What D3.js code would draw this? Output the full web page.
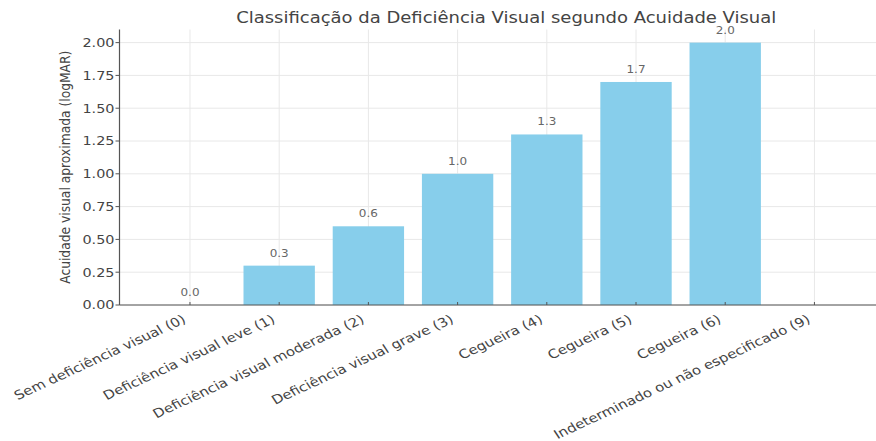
<!DOCTYPE html>
<html>
<head>
<meta charset="utf-8">
<script src="https://cdn.jsdelivr.net/npm/d3@7"></script>
<style>
  html, body { margin: 0; padding: 0; background: #fff; }
  svg { display: block; font-family: "DejaVu Sans", sans-serif; }
</style>
</head>
<body>
<svg id="chart" width="876" height="441"></svg>
<script>
const categories = [
  "Sem deficiência visual (0)",
  "Deficiência visual leve (1)",
  "Deficiência visual moderada (2)",
  "Deficiência visual grave (3)",
  "Cegueira (4)",
  "Cegueira (5)",
  "Cegueira (6)",
  "Indeterminado ou não especificado (9)"
];
const values = [0.0, 0.3, 0.6, 1.0, 1.3, 1.7, 2.0, null];
const valueLabels = ["0.0", "0.3", "0.6", "1.0", "1.3", "1.7", "2.0", null];
const yTicks = [0, 0.25, 0.5, 0.75, 1.0, 1.25, 1.5, 1.75, 2.0];
const title = "Classificação da Deficiência Visual segundo Acuidade Visual";
const yLabel = "Acuidade visual aproximada (logMAR)";

const svg = d3.select("#chart");
const pLeft = 119.5, pRight = 884.9, pTop = 29.5, pBottom = 305;
const sx = 1.2; // horizontal stretch of the reference image

const x = d3.scaleLinear().domain([-0.79, categories.length - 0.21]).range([pLeft, pRight]);
const y = d3.scaleLinear().domain([0, 2.1]).range([pBottom, pTop]);

// grid
const grid = svg.append("g");
grid.selectAll("line.h").data(yTicks).enter().append("line")
  .attr("x1", pLeft).attr("x2", pRight)
  .attr("y1", d => y(d)).attr("y2", d => y(d))
  .attr("stroke", "#e8e8e8").attr("stroke-width", 1);
grid.selectAll("line.v").data(categories.map((c, i) => i)).enter().append("line")
  .attr("x1", d => x(d)).attr("x2", d => x(d))
  .attr("y1", pTop).attr("y2", pBottom)
  .attr("stroke", "#e8e8e8").attr("stroke-width", 1);

// bars
const data = categories.map((c, i) => ({c, i, v: values[i], l: valueLabels[i]}));
const valid = data.filter(d => d.v !== null);
svg.append("g").selectAll("rect").data(valid).enter().append("rect")
  .attr("x", d => x(d.i - 0.4))
  .attr("width", d => x(d.i + 0.4) - x(d.i - 0.4))
  .attr("y", d => y(d.v))
  .attr("height", d => y(0) - y(d.v))
  .attr("fill", "#87ceeb");

// value labels
svg.append("g").selectAll("text").data(valid).enter().append("text")
  .attr("transform", d => `translate(${x(d.i)},${y(d.v + 0.05) - 2.5}) scale(${sx},1)`)
  .attr("text-anchor", "middle")
  .attr("font-size", 10)
  .attr("fill", "#666")
  .text(d => d.l);

// axes spines
svg.append("line").attr("x1", pLeft).attr("x2", pLeft).attr("y1", pTop).attr("y2", pBottom)
  .attr("stroke", "#555").attr("stroke-width", 1.2);
svg.append("line").attr("x1", pLeft).attr("x2", pRight).attr("y1", pBottom).attr("y2", pBottom)
  .attr("stroke", "#555").attr("stroke-width", 1.2);

// y ticks
const yt = svg.append("g");
yt.selectAll("line").data(yTicks).enter().append("line")
  .attr("x1", pLeft - 4).attr("x2", pLeft)
  .attr("y1", d => y(d)).attr("y2", d => y(d))
  .attr("stroke", "#555");
yt.selectAll("text").data(yTicks).enter().append("text")
  .attr("transform", d => `translate(${pLeft - 5},${y(d)}) scale(${sx},1)`)
  .attr("dy", "0.36em")
  .attr("text-anchor", "end")
  .attr("font-size", 12)
  .attr("fill", "#444")
  .text(d => d3.format(".2f")(d));

// x ticks
const xt = svg.append("g");
xt.selectAll("line").data(data).enter().append("line")
  .attr("x1", d => x(d.i)).attr("x2", d => x(d.i))
  .attr("y1", pBottom).attr("y2", pBottom - 3)
  .attr("stroke", "#555");
xt.selectAll("text").data(data).enter().append("text")
  .attr("transform", d => `translate(${x(d.i) - 3},${pBottom + 17}) scale(${sx},1) rotate(-29)`)
  .attr("text-anchor", "end")
  .attr("font-size", 12.5)
  .attr("fill", "#444")
  .text(d => d.c);

// y label
svg.append("text")
  .attr("transform", `translate(70,${(pTop + pBottom) / 2}) scale(${sx},1) rotate(-90)`)
  .attr("text-anchor", "middle")
  .attr("font-size", 12.3)
  .attr("fill", "#444")
  .text(yLabel);

// title
svg.append("text")
  .attr("transform", `translate(${(pLeft + pRight) / 2 + 4},23) scale(${sx},1)`)
  .attr("text-anchor", "middle")
  .attr("font-size", 15)
  .attr("fill", "#444")
  .text(title);
</script>
</body>
</html>
